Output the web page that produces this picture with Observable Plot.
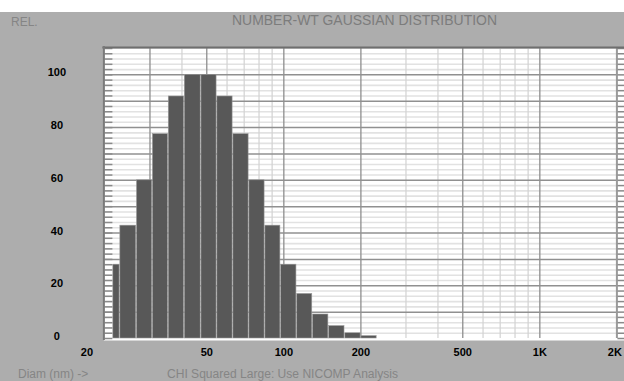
<!DOCTYPE html>
<html>
<head>
<meta charset="utf-8">
<script src="https://cdn.jsdelivr.net/npm/d3@7"></script>
<script src="https://cdn.jsdelivr.net/npm/@observablehq/plot@0.6"></script>
<style>
  html, body { margin: 0; padding: 0; background: #adadad; }
  #chart svg { display: block; }
</style>
</head>
<body>
<div id="chart"></div>
<script>
// Histogram bins (diameter, nm): lower edge, upper edge, relative number
const binLo = [21.5, 22.9, 26.6, 30.7, 35.4, 40.9, 47.5, 54.8, 63.3, 73.1, 84.4, 97.3, 112.4, 129.6, 149.8, 173.2, 200.2];
const binHi = [22.9, 26.6, 30.7, 35.4, 40.9, 47.5, 54.8, 63.3, 73.1, 84.4, 97.3, 112.4, 129.6, 149.8, 173.2, 200.2, 231.3];
const binVal = [28, 42.8, 60, 77.5, 91.8, 100, 100, 91.8, 77.5, 60, 42.8, 28, 16.9, 9.1, 4.7, 2.0, 0.9];

// Axes
const xTickValues = [20, 50, 100, 200, 500, 1000, 2000];
const xTickLabels = ["20", "50", "100", "200", "500", "1K", "2K"];
const yTickValues = [0, 20, 40, 60, 80, 100];
const xGridMajor = [30, 50, 100, 200, 500, 1000];
const xGridMinor = [40, 60, 70, 80, 90, 300, 400, 600, 700, 800, 900];
const yGridMajor = [10, 20, 30, 40, 50, 60, 70, 80, 90, 100];
const yGridMinor = [2, 4, 6, 8, 12, 14, 16, 18, 22, 24, 26, 28, 32, 34, 36, 38, 42, 44, 46, 48, 52, 54, 56, 58, 62, 64, 66, 68, 72, 74, 76, 78, 82, 84, 86, 88, 92, 94, 96, 98, 102, 104, 106, 108];
const yTickMarks = yGridMajor.concat(yGridMinor, [0, 110]);

const titleText = "NUMBER-WT GAUSSIAN DISTRIBUTION";
const yUnitText = "REL.";
const xUnitText = "Diam (nm) ->";
const noteText = "CHI Squared Large: Use NICOMP Analysis";

const bins = binLo.map((lo, i) => ({lo, hi: binHi[i], v: binVal[i]}));

const W = 624, H = 381;
const chart = Plot.plot({
  width: W,
  height: H,
  marginLeft: 104.4,
  marginRight: 7.6,
  marginTop: 48,
  marginBottom: 43,
  style: {background: "#adadad", fontFamily: "'Liberation Sans', Arial, sans-serif"},
  x: {type: "log", domain: [20, 2000], axis: null},
  y: {domain: [0, 110], axis: null},
  marks: [
    Plot.frame({fill: "white", stroke: null, insetRight: -8, insetBottom: -2, insetLeft: -1}),
    Plot.ruleY(yGridMinor, {stroke: "#e2e2e2", strokeWidth: 1.6}),
    Plot.ruleX(xGridMinor, {stroke: "#d2d2d2", strokeWidth: 1.2}),
    Plot.ruleX(xGridMajor, {stroke: "#8e8e8e", strokeWidth: 1.3}),
    Plot.ruleY(yGridMajor, {stroke: "#909090", strokeWidth: 1.5}),
    Plot.ruleX([2000], {stroke: "#9a9a9a", strokeWidth: 2}),
    Plot.ruleY(yTickMarks, {stroke: "#8a8a8a", strokeWidth: 1.5, insetRight: 504}),
    Plot.ruleY(yTickMarks, {stroke: "#8a8a8a", strokeWidth: 1.5, insetLeft: 513, insetRight: -8}),
    Plot.rectY(bins, {x1: "lo", x2: "hi", y: "v", fill: "#585858", stroke: "#9a9a9a", strokeWidth: 0.6, insetLeft: 0.4, insetRight: 0.4}),
    Plot.ruleY([110], {stroke: "#6e6e6e", strokeWidth: 2.2, dy: -1, insetLeft: -2, insetRight: -8}),
    Plot.ruleX([20], {stroke: "#7a7a7a", strokeWidth: 2, dx: -1, insetTop: -2, insetBottom: -2}),
    Plot.text(xTickValues.slice(0, 1), {x: d => d, frameAnchor: "bottom", dy: 17, dx: -18, text: (d, i) => xTickLabels[i], fontWeight: "bold", fontSize: 11, fill: "black"}),
    Plot.text(xTickValues.slice(1, 6), {x: d => d, frameAnchor: "bottom", dy: 17, text: (d, i) => xTickLabels[i + 1], fontWeight: "bold", fontSize: 11, fill: "black"}),
    Plot.text(xTickValues.slice(6), {x: d => d, frameAnchor: "bottom", dy: 17, dx: -2, text: (d, i) => xTickLabels[i + 6], fontWeight: "bold", fontSize: 11, fill: "black"}),
    Plot.text(yTickValues, {y: d => d, frameAnchor: "left", dx: -48, dy: -2, text: d => String(d), textAnchor: "middle", fontWeight: "bold", fontSize: 11, fill: "black"})
  ]
});

const svg = d3.select(chart);
svg.insert("rect", ":first-child").attr("x", 0).attr("y", 0).attr("width", W).attr("height", 12).attr("fill", "white");
const addText = (x, y, size, color, str, len) => {
  const t = svg.append("text").attr("x", x).attr("y", y).attr("fill", color)
    .attr("font-size", size).attr("text-anchor", "start").text(str);
  if (len) t.attr("textLength", len).attr("lengthAdjust", "spacingAndGlyphs");
  return t;
};
addText(11, 26, 12, "#858585", yUnitText);
addText(232, 25, 14, "#7c7c7c", titleText, 265);
addText(18, 378, 12, "#858585", xUnitText);
addText(167, 378, 12, "#858585", noteText, 231);

document.getElementById("chart").appendChild(chart);
</script>
</body>
</html>
